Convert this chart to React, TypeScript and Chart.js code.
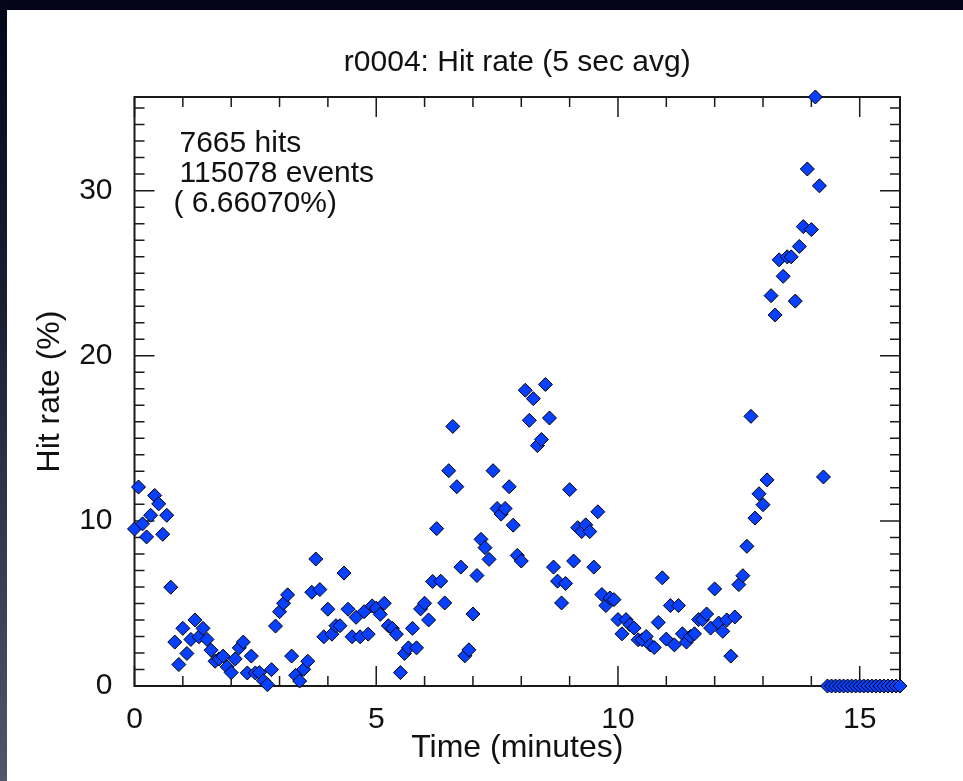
import { useEffect, useRef } from "react";
import { Chart, registerables } from "chart.js";

Chart.register(...registerables);

const TITLE = "r0004: Hit rate (5 sec avg)";
const X_LABEL = "Time (minutes)";
const Y_LABEL = "Hit rate (%)";
const ANNOTATION_LINES = ["7665 hits", "115078 events", "( 6.66070%)"];

const SAMPLE_SECONDS = 5;
const X_TICKS = [0, 5, 10, 15];
const Y_TICKS = [0, 10, 20, 30];
const X_MINOR_STEP = 1;
const X_MAJOR_STEP = 5;
const Y_MINOR_STEP = 1;
const Y_MAJOR_STEP = 10;

// Hit rate (%) per 5-second bin, in time order starting at t = 0
const HIT_RATE = [
  9.51, 12.05, 9.82, 9.03, 10.34, 11.54, 11.03, 9.19, 10.34, 5.98,
  2.66, 1.3, 3.49, 1.97, 2.82, 4.0, 2.98, 3.49, 2.82, 2.17,
  1.5, 1.64, 1.81, 1.16, 0.81, 1.64, 2.31, 2.66, 0.79, 1.81,
  0.79, 0.81, 0.32, 0.08, 0.99, 3.63, 4.5, 5.01, 5.52, 1.81,
  0.65, 0.3, 1.01, 1.5, 5.68, 7.69, 5.84, 2.98, 4.65, 3.14,
  3.65, 3.65, 6.84, 4.65, 2.98, 4.16, 2.98, 4.5, 3.14, 4.85,
  4.71, 4.34, 5.01, 3.65, 3.49, 3.14, 0.81, 1.97, 2.31, 3.49,
  2.31, 4.67, 5.01, 4.0, 6.33, 9.53, 6.35, 5.03, 13.04, 15.72,
  12.07, 7.2, 1.83, 2.19, 4.36, 6.69, 8.88, 8.38, 7.67, 13.04,
  10.75, 10.41, 10.75, 12.07, 9.74, 7.91, 7.57, 17.91, 16.09, 17.4,
  14.56, 14.93, 18.26, 16.23, 7.2, 6.35, 5.03, 6.21, 11.89, 7.57,
  9.59, 9.35, 9.76, 9.35, 7.2, 10.55, 5.54, 4.87, 5.33, 5.23,
  4.02, 3.16, 4.02, 3.71, 3.51, 2.8, 2.8, 3.0, 2.49, 2.33,
  3.85, 6.55, 2.84, 4.87, 2.49, 4.87, 3.16, 2.66, 3.0, 3.16,
  4.02, 4.02, 4.36, 3.51, 5.88, 3.81, 3.31, 4.0, 1.81, 4.18,
  6.14, 6.68, 8.46, 16.33, 10.17, 11.64, 10.98, 12.48, 23.64, 22.47,
  25.81, 24.81, 25.99, 25.99, 23.31, 26.62, 27.82, 31.31, 27.64, 35.67,
  30.29, 12.66, 0, 0, 0, 0, 0, 0, 0, 0,
  0, 0, 0, 0, 0, 0, 0, 0, 0, 0,
  0,
];

const FONT_FAMILY = "'Liberation Sans', Arial, Helvetica, sans-serif";
const TEXT_COLOR = "#111111";
const POINT_FILL = "#0840ff";

const CANVAS_W = 956;
const CANVAS_H = 771;

const idlFramePlugin = {
  id: "idlFrame",
  beforeDatasetsDraw(chart: any) {
    const { ctx, chartArea: a, scales } = chart;
    const xs = scales.x;
    const ys = scales.y;
    ctx.save();
    ctx.strokeStyle = "#1a1a1a";
    ctx.lineWidth = 1.5;
    ctx.beginPath();
    // x ticks (bottom and top, pointing inward)
    const nx = Math.floor(xs.max / X_MINOR_STEP + 1e-9);
    for (let k = 0; k <= nx; k++) {
      const v = k * X_MINOR_STEP;
      const px = xs.getPixelForValue(v);
      const len = Math.abs(v % X_MAJOR_STEP) < 1e-9 ? 20 : 10;
      ctx.moveTo(px, a.bottom);
      ctx.lineTo(px, a.bottom - len);
      ctx.moveTo(px, a.top);
      ctx.lineTo(px, a.top + len);
    }
    // y ticks (left and right, pointing inward)
    const ny = Math.floor(ys.max / Y_MINOR_STEP + 1e-9);
    for (let k = 0; k <= ny; k++) {
      const v = k * Y_MINOR_STEP;
      const py = ys.getPixelForValue(v);
      const len = Math.abs(v % Y_MAJOR_STEP) < 1e-9 ? 20 : 10;
      ctx.moveTo(a.left, py);
      ctx.lineTo(a.left + len, py);
      ctx.moveTo(a.right, py);
      ctx.lineTo(a.right - len, py);
    }
    ctx.stroke();
    ctx.lineWidth = 2;
    ctx.strokeRect(a.left, a.top, a.right - a.left, a.bottom - a.top);

    // annotation text
    ctx.fillStyle = TEXT_COLOR;
    ctx.font = `30px ${FONT_FAMILY}`;
    ctx.textBaseline = "middle";
    ctx.textAlign = "left";
    ANNOTATION_LINES.forEach((line, i) => {
      const dx = i === 2 ? -6 : 0;
      ctx.fillText(line, a.left + 45 + dx, a.top + 47 + i * 30);
    });
    ctx.restore();
  },
};

export default function App() {
  const canvasRef = useRef<HTMLCanvasElement | null>(null);

  useEffect(() => {
    if (!canvasRef.current) return;
    const stepMin = SAMPLE_SECONDS / 60;
    const points = HIT_RATE.map((y, i) => ({ x: i * stepMin, y }));
    const xMax = (HIT_RATE.length - 1) * stepMin;
    const yMax = Math.max(...HIT_RATE);
    const tickFont = { family: FONT_FAMILY, size: 30 };
    const axisTitleFont = { family: FONT_FAMILY, size: 32 };

    const chart = new Chart(canvasRef.current, {
      type: "scatter",
      data: {
        datasets: [
          {
            data: points,
            pointStyle: "rectRot",
            pointRadius: 7,
            pointBackgroundColor: POINT_FILL,
            pointBorderColor: "#000000",
            pointBorderWidth: 1,
            clip: false,
          } as any,
        ],
      },
      options: {
        responsive: false,
        animation: false,
        layout: { padding: { left: 0, right: 63, top: 0, bottom: 0 } },
        plugins: {
          legend: { display: false },
          tooltip: { enabled: false },
          title: {
            display: true,
            fullSize: false,
            text: TITLE,
            color: TEXT_COLOR,
            font: { family: FONT_FAMILY, size: 30, weight: "normal" },
            padding: { top: 35, bottom: 16 },
          },
        },
        scales: {
          x: {
            type: "linear",
            min: 0,
            max: xMax,
            afterBuildTicks: (s: any) => {
              s.ticks = X_TICKS.map((v) => ({ value: v }));
            },
            afterFit: (s: any) => {
              s.height = 95;
            },
            grid: { display: false },
            border: { display: false },
            ticks: {
              font: tickFont,
              color: TEXT_COLOR,
              padding: 8,
              maxRotation: 0,
              autoSkip: false,
            },
            title: {
              display: true,
              text: X_LABEL,
              color: TEXT_COLOR,
              font: axisTitleFont,
              padding: { top: 0, bottom: 14 },
            },
          },
          y: {
            type: "linear",
            min: 0,
            max: yMax,
            afterBuildTicks: (s: any) => {
              s.ticks = Y_TICKS.map((v) => ({ value: v }));
            },
            afterFit: (s: any) => {
              s.width = 127.5;
            },
            grid: { display: false },
            border: { display: false },
            ticks: {
              font: tickFont,
              color: TEXT_COLOR,
              padding: 14,
              autoSkip: false,
            },
            title: {
              display: true,
              text: Y_LABEL,
              color: TEXT_COLOR,
              font: axisTitleFont,
              padding: { top: 24, bottom: 0 },
            },
          },
        },
      } as any,
      plugins: [idlFramePlugin],
    });
    return () => chart.destroy();
  }, []);

  return (
    <div
      style={{
        position: "fixed",
        left: 0,
        top: 0,
        width: 963,
        height: 781,
        background: "#05051a",
        overflow: "hidden",
      }}
    >
      <div
        style={{
          position: "absolute",
          left: 0,
          top: 0,
          width: 7,
          height: 781,
          background: "linear-gradient(#05051a 0%, #1c1e32 40%, #52566a 100%)",
        }}
      />
      <canvas
        ref={canvasRef}
        width={CANVAS_W}
        height={CANVAS_H}
        style={{
          position: "absolute",
          left: 7,
          top: 10,
          width: CANVAS_W,
          height: CANVAS_H,
          background: "#ffffff",
        }}
      />
    </div>
  );
}
